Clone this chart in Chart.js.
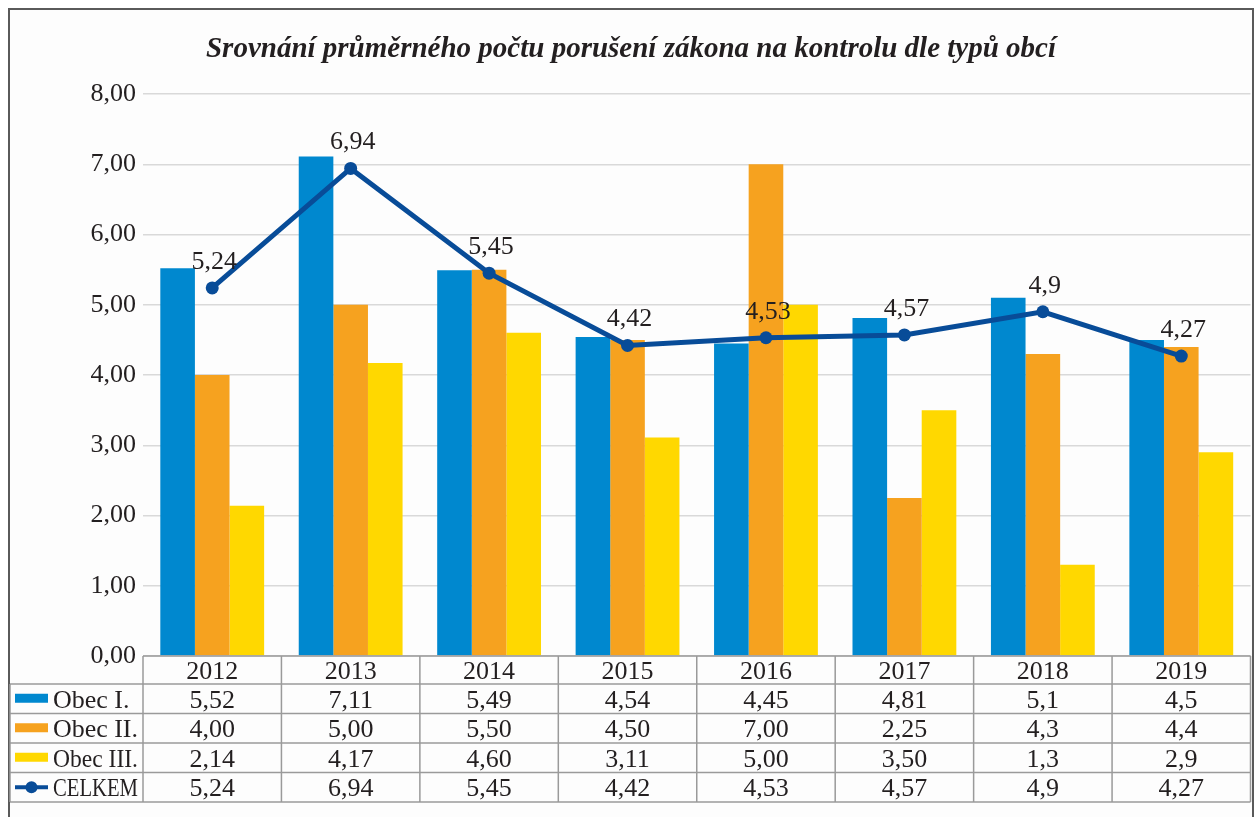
<!DOCTYPE html>
<html>
<head>
<meta charset="utf-8">
<script src="https://cdn.jsdelivr.net/npm/chart.js@4.4.1/dist/chart.umd.min.js"></script>
<style>
  html, body { margin: 0; padding: 0; background: #fff; }
  #wrap { position: relative; width: 1257px; height: 817px; }
  canvas { display: block; }
</style>
</head>
<body>
<div id="wrap"><canvas id="c" width="1257" height="817"></canvas></div>
<script>
// ---- data ----
const title = 'Srovnání průměrného počtu porušení zákona na kontrolu dle typů obcí';
const categories = ['2012', '2013', '2014', '2015', '2016', '2017', '2018', '2019'];
const seriesNames = ['Obec I.', 'Obec II.', 'Obec III.', 'CELKEM'];
const obec1 = [5.52, 7.11, 5.49, 4.54, 4.45, 4.81, 5.1, 4.5];
const obec2 = [4.00, 5.00, 5.50, 4.50, 7.00, 2.25, 4.3, 4.4];
const obec3 = [2.14, 4.17, 4.60, 3.11, 5.00, 3.50, 1.3, 2.9];
const celkem = [5.24, 6.94, 5.45, 4.42, 4.53, 4.57, 4.9, 4.27];
// table texts as printed
const obec1Text = ['5,52', '7,11', '5,49', '4,54', '4,45', '4,81', '5,1', '4,5'];
const obec2Text = ['4,00', '5,00', '5,50', '4,50', '7,00', '2,25', '4,3', '4,4'];
const obec3Text = ['2,14', '4,17', '4,60', '3,11', '5,00', '3,50', '1,3', '2,9'];
const celkemText = ['5,24', '6,94', '5,45', '4,42', '4,53', '4,57', '4,9', '4,27'];
const yTicks = [0, 1, 2, 3, 4, 5, 6, 7, 8];

// ---- styles ----
const COLORS = ['#0088CF', '#F6A21F', '#FFD800', '#084C98'];
const SERIF = '"Liberation Serif", "DejaVu Serif", serif';
const TEXT = '#231f20';
const GRID_TABLE = '#9a9a9a';

const framePlugin = {
  id: 'frame',
  beforeDraw(chart) {
    const ctx = chart.ctx;
    ctx.save();
    ctx.fillStyle = '#ffffff';
    ctx.fillRect(0, 0, chart.width, chart.height);
    ctx.fillStyle = '#fdfdfd';
    ctx.fillRect(9, 9, 1244, 830);
    ctx.restore();
  },
  afterDraw(chart) {
    const ctx = chart.ctx;
    const ca = chart.chartArea;
    ctx.save();
    // outer frame
    ctx.strokeStyle = '#5a5a5a';
    ctx.lineWidth = 2;
    ctx.strokeRect(9, 9, 1244, 830);

    // title
    ctx.fillStyle = TEXT;
    ctx.font = 'italic bold 29px ' + SERIF;
    ctx.textAlign = 'center';
    ctx.textBaseline = 'alphabetic';
    ctx.fillText(title, 631, 57);

    // data labels for CELKEM
    const lineMeta = chart.getDatasetMeta(3);
    ctx.font = '26px ' + SERIF;
    ctx.textBaseline = 'alphabetic';
    lineMeta.data.forEach((pt, i) => {
      ctx.fillText(celkemText[i], pt.x + 2, pt.y - 19);
    });

    // data table
    const n = categories.length;
    const colW = (ca.right - ca.left) / n;
    const top = ca.bottom;
    const headB = 684;
    const rowH = 29.5;
    const bottom = headB + rowH * 4;
    const legL = 10;
    ctx.strokeStyle = GRID_TABLE;
    ctx.lineWidth = 1.5;
    ctx.beginPath();
    ctx.moveTo(ca.left, top); ctx.lineTo(ca.right, top);
    for (let r = 0; r <= 4; r++) {
      const y = headB + r * rowH;
      ctx.moveTo(legL, y); ctx.lineTo(ca.right, y);
    }
    ctx.moveTo(legL, headB); ctx.lineTo(legL, bottom);
    for (let c = 0; c <= n; c++) {
      const x = ca.left + c * colW;
      ctx.moveTo(x, top); ctx.lineTo(x, bottom);
    }
    ctx.stroke();

    // header text
    ctx.fillStyle = TEXT;
    ctx.font = '26px ' + SERIF;
    ctx.textAlign = 'center';
    ctx.textBaseline = 'middle';
    const xScale = chart.scales.x;
    categories.forEach((cat, i) => {
      ctx.fillText(cat, xScale.getPixelForValue(i), (top + headB) / 2 + 2);
    });
    const rows = [obec1Text, obec2Text, obec3Text, celkemText];
    rows.forEach((row, r) => {
      const yc = headB + r * rowH + rowH / 2 + 2;
      ctx.font = '26px ' + SERIF;
      row.forEach((t, i) => {
        ctx.fillText(t, xScale.getPixelForValue(i), yc);
      });
      // legend
      if (r < 3) {
        ctx.fillStyle = COLORS[r];
        ctx.fillRect(15, yc - 7, 33, 9);
      } else {
        ctx.strokeStyle = COLORS[3];
        ctx.lineWidth = 4;
        ctx.beginPath();
        ctx.moveTo(15, yc - 2); ctx.lineTo(48, yc - 2);
        ctx.stroke();
        ctx.fillStyle = COLORS[3];
        ctx.beginPath();
        ctx.arc(31.5, yc - 2, 6, 0, Math.PI * 2);
        ctx.fill();
      }
      ctx.fillStyle = TEXT;
      ctx.textAlign = 'left';
      ctx.font = '26px ' + SERIF;
      ctx.fillText(seriesNames[r], 53, yc, 85);
      ctx.textAlign = 'center';
    });
    ctx.restore();
  }
};

new Chart(document.getElementById('c'), {
  data: {
    labels: categories,
    datasets: [
      { type: 'bar', label: seriesNames[0], data: obec1, backgroundColor: COLORS[0], order: 2, categoryPercentage: 0.75, barPercentage: 1.0 },
      { type: 'bar', label: seriesNames[1], data: obec2, backgroundColor: COLORS[1], order: 2, categoryPercentage: 0.75, barPercentage: 1.0 },
      { type: 'bar', label: seriesNames[2], data: obec3, backgroundColor: COLORS[2], order: 2, categoryPercentage: 0.75, barPercentage: 1.0 },
      { type: 'line', label: seriesNames[3], data: celkem, borderColor: COLORS[3], backgroundColor: COLORS[3],
        borderWidth: 5, pointRadius: 6.5, pointBackgroundColor: COLORS[3], pointBorderWidth: 0, tension: 0, order: 0 }
    ]
  },
  options: {
    responsive: false,
    animation: false,
    layout: { padding: { left: 8, right: 5, top: 94, bottom: 161 } },
    plugins: { legend: { display: false }, title: { display: false }, tooltip: { enabled: false } },
    scales: {
      x: {
        offset: true,
        grid: { display: false },
        border: { display: false },
        ticks: { display: false },
        afterFit(s) { s.height = 0; }
      },
      y: {
        min: 0, max: 8,
        afterFit(s) { s.width = 135; },
        afterBuildTicks(s) { s.ticks = yTicks.map(v => ({ value: v })); },
        grid: { color: '#d9d9d9', lineWidth: 1.5, drawTicks: false },
        border: { display: false },
        ticks: {
          padding: 7,
          color: TEXT,
          font: { family: SERIF, size: 26 },
          callback: v => v.toFixed(2).replace('.', ',')
        }
      }
    }
  },
  plugins: [framePlugin]
});
</script>
</body>
</html>
